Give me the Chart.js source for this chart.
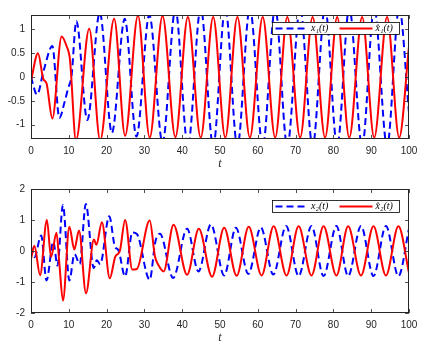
<!DOCTYPE html>
<html><head><meta charset="utf-8">
<script src="https://cdn.jsdelivr.net/npm/chart.js@4.4.1/dist/chart.umd.min.js"></script>
<style>
html,body{margin:0;padding:0;background:#fff;}
#wrap{position:relative;width:430px;height:349px;overflow:hidden;}
canvas{position:absolute;left:0;}
#c1{top:0;}
#c2{top:175px;}
</style></head><body>
<div id="wrap">
<canvas id="c1" width="430" height="175" style="width:430px;height:175px"></canvas>
<canvas id="c2" width="430" height="174" style="width:430px;height:174px"></canvas>
</div>
<script>
// ---- data ----
const xTicks = [0,10,20,30,40,50,60,70,80,90,100];
const yTicksTop = [-1,-0.5,0,0.5,1];
const yTicksBottom = [-2,-1,0,1,2];
const yRangeTop = [-1.3, 1.3];
const yRangeBottom = [-2, 2];
const xRange = [0, 100];

const labelsTop = ['x\u2081(t)', 'x\u0302\u2081(t)'];
const labelsBottom = ['x\u2082(t)', 'x\u0302\u2082(t)'];
const xTitle = 't';

const tX1 = [0,1.6,3.4,5.65,7.5,8.9,9.8,10.7,12.0,14.9,18.2,21.4,24.8,27.9,31.3,34.8,38.2,41.5,44.9,48.2,51.4,54.6,57.9,61.3,64.6,67.8,71.2,74.5,77.8,81.0,84.2,87.6,90.8,94.2,97.4,100];
const x1 = [0,-0.37,0.15,0.65,-0.86,-0.52,-0.24,0.01,1.17,-0.9,1.35,-1.17,1.22,-1.25,1.3,-1.38,1.42,-1.45,1.45,-1.45,1.45,-1.45,1.45,-1.45,1.45,-1.45,1.45,-1.45,1.45,-1.45,1.45,-1.45,1.45,-1.45,1.45,-0.75];

const tX1hat = [0,1.85,3.25,4.1,5.65,8.1,9.4,10.3,11.9,15.4,18.3,22.0,24.9,28.3,31.4,34.8,38.2,41.5,44.9,48.2,51.4,54.6,57.9,61.3,64.6,67.8,71.2,74.5,77.8,81.0,84.2,87.6,90.8,94.2,97.4,100];
const x1hat = [-0.08,0.5,-0.04,-0.13,-0.87,0.85,0.65,0.37,-1.33,1.01,-1.33,1.22,-1.23,1.29,-1.27,1.28,-1.26,1.26,-1.27,1.26,-1.27,1.26,-1.27,1.26,-1.27,1.26,-1.27,1.26,-1.27,1.26,-1.27,1.26,-1.27,1.26,-1.27,0.64];

const tX2 = [0,0.9,2.7,4.1,5.9,7.0,8.45,10.15,11.5,12.9,14.5,16.6,17.4,18.3,20.7,22.2,23.1,24.9,26.8,28.0,31.4,32.9,34.1,37.6,41.3,44.3,47.6,51.1,54.2,57.5,60.8,64.1,67.5,70.8,74.2,77.4,80.8,83.9,87.3,90.6,93.9,97.2,100];
const x2 = [0.15,-0.2,0.5,-0.95,0.3,-0.47,1.48,-0.95,-0.1,-0.42,1.52,-0.55,-0.3,-0.42,1.12,0.14,0.03,-0.82,0.6,0.55,-0.93,0.3,0.56,-0.87,0.72,-0.66,0.86,-0.79,0.75,-0.74,0.76,-0.76,0.81,-0.81,0.81,-0.81,0.81,-0.81,0.81,-0.81,0.81,-0.81,0.72];

const tX2hat = [0,0.9,2.4,4.2,5.3,6.75,7.5,8.45,10.15,11.45,12.7,14.55,16.65,17.3,18.75,20.85,22.3,23.5,24.9,26.8,28.0,31.4,32.8,33.7,35.1,37.7,41.3,44.4,47.9,51.1,54.4,57.6,61.0,64.2,67.6,70.8,74.2,77.4,80.8,83.9,87.3,90.6,93.9,97.2,100];
const x2hat = [-0.25,0.17,-0.78,1.0,-0.19,0.59,-0.4,-1.6,0.78,0.05,0.66,-1.36,0.37,0.2,0.93,-0.88,-0.18,0.0,1.0,-0.6,-0.58,0.98,-0.18,-0.45,-0.66,0.85,-0.77,0.72,-0.83,0.75,-0.8,0.78,-0.79,0.8,-0.79,0.8,-0.79,0.8,-0.79,0.8,-0.79,0.8,-0.79,0.8,-0.7];

// ---- helpers ----
const pts = (ts, vs) => ts.map((t, i) => ({x: t, y: vs[i]}));
const AXIS = '#262626';

const matlabBox = {
  id: 'matlabBox',
  afterDraw(chart, args, opts) {
    const {ctx, chartArea: a} = chart;
    const xs = chart.scales.x, ys = chart.scales.y;
    ctx.save();
    // inward ticks on all four sides
    const L = 4;
    ctx.strokeStyle = AXIS;
    ctx.lineWidth = 0.8;
    ctx.beginPath();
    xs.ticks.forEach(tk => {
      const px = Math.round(xs.getPixelForValue(tk.value)) + 0.5;
      ctx.moveTo(px, a.bottom); ctx.lineTo(px, a.bottom - L);
      ctx.moveTo(px, a.top); ctx.lineTo(px, a.top + L);
    });
    ys.ticks.forEach(tk => {
      const py = Math.round(ys.getPixelForValue(tk.value)) + 0.5;
      ctx.moveTo(a.left, py); ctx.lineTo(a.left + L, py);
      ctx.moveTo(a.right, py); ctx.lineTo(a.right - L, py);
    });
    ctx.stroke();
    // box
    ctx.lineWidth = 1;
    ctx.strokeRect(a.left + 0.5, a.top + 0.5, a.right - a.left - 1, a.bottom - a.top - 1);

    // legend
    const bw = 127, bh = 12;
    const bx = a.right - opts.legendRight - bw;
    const by = a.top + opts.legendTop;
    ctx.fillStyle = '#fff';
    ctx.fillRect(bx, by, bw, bh);
    ctx.strokeStyle = '#000';
    ctx.lineWidth = 0.8;
    ctx.strokeRect(bx + 0.5, by + 0.5, bw, bh);
    const cy = by + bh / 2 + 0.5;
    const ds = chart.data.datasets;
    const legendDs = [ds[0], ds[1]];
    const sampleX = [3.5, 67.5];
    const textX = [39, 103.5];
    legendDs.forEach((d, i) => {
      ctx.beginPath();
      ctx.strokeStyle = d.borderColor;
      ctx.lineWidth = d.borderWidth;
      ctx.setLineDash(d.borderDash || []);
      ctx.moveTo(bx + sampleX[i], cy);
      ctx.lineTo(bx + sampleX[i] + 33, cy);
      ctx.stroke();
      ctx.setLineDash([]);
      ctx.fillStyle = '#000';
      ctx.font = 'italic 10px "Liberation Serif", "DejaVu Serif", serif';
      ctx.textBaseline = 'middle';
      ctx.textAlign = 'left';
      ctx.fillText(d.label, bx + textX[i], cy);
    });
    ctx.restore();
  }
};

function makeChart(id, blueT, blueV, redT, redV, labels, yRange, yTicks, padTop, legendTop) {
  return new Chart(document.getElementById(id), {
    type: 'line',
    data: {
      datasets: [
        { label: labels[0], data: pts(blueT, blueV), borderColor: '#0000FF', borderWidth: 2,
          borderDash: [7, 4], pointRadius: 0, cubicInterpolationMode: 'monotone', fill: false, order: 2, clip: 0 },
        { label: labels[1], data: pts(redT, redV), borderColor: '#FF0000', borderWidth: 2,
          pointRadius: 0, cubicInterpolationMode: 'monotone', fill: false, order: 1, clip: 0 }
      ]
    },
    options: {
      responsive: false,
      animation: false,
      devicePixelRatio: 1,
      layout: { padding: { top: padTop, right: 21, left: 0, bottom: 0 } },
      plugins: {
        legend: { display: false },
        tooltip: { enabled: false },
        matlabBox: { legendTop: legendTop, legendRight: 10 }
      },
      scales: {
        x: {
          type: 'linear', min: xRange[0], max: xRange[1],
          afterBuildTicks: s => { s.ticks = xTicks.map(v => ({ value: v })); },
          afterFit: s => { s.height = 36; },
          grid: { display: false, drawTicks: false },
          border: { display: false },
          ticks: { color: AXIS, padding: 6, maxRotation: 0, autoSkip: false,
                   callback: v => String(v),
                   font: { family: '"Liberation Sans", Arial, sans-serif', size: 10 } },
          title: { display: true, text: xTitle, color: AXIS, padding: { top: 0, bottom: 4 },
                   font: { family: '"Liberation Serif", serif', size: 12, style: 'italic' } }
        },
        y: {
          type: 'linear', min: yRange[0], max: yRange[1],
          afterBuildTicks: s => { s.ticks = yTicks.map(v => ({ value: v })); },
          afterFit: s => { s.width = 31; },
          grid: { display: false, drawTicks: false },
          border: { display: false },
          ticks: { color: AXIS, padding: 6, autoSkip: false,
                   callback: v => String(v),
                   font: { family: '"Liberation Sans", Arial, sans-serif', size: 10 } }
        }
      }
    },
    plugins: [matlabBox]
  });
}

makeChart('c1', tX1, x1, tX1hat, x1hat, labelsTop, yRangeTop, yTicksTop, 15, 7);
makeChart('c2', tX2, x2, tX2hat, x2hat, labelsBottom, yRangeBottom, yTicksBottom, 14, 11);
</script>
</body></html>
